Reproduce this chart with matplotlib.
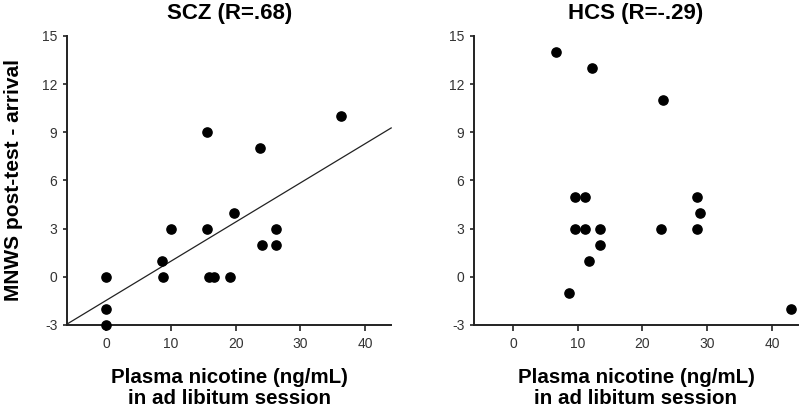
import numpy as np
import matplotlib
matplotlib.use('Agg')
import matplotlib.pyplot as plt

plt.rcParams['font.family'] = ['Liberation Sans', 'DejaVu Sans']
plt.rcParams['axes.unicode_minus'] = False

# SCZ group
scz_x = [0, 0, 0, 8.7, 8.8, 10.0, 15.5, 15.5, 15.9, 16.6, 19.1, 19.8, 23.7, 24.0, 26.2, 26.2, 36.2]
scz_y = [0, -2, -3, 1, 0, 3, 9, 3, 0, 0, 0, 4, 8, 2, 3, 2, 10]

# HCS group
hcs_x = [6.7, 12.2, 23.2, 9.6, 11.2, 9.6, 11.1, 13.4, 13.4, 11.8, 8.6, 22.9, 28.4, 28.8, 28.4, 42.9]
hcs_y = [14, 13, 11, 5, 5, 3, 3, 3, 2, 1, -1, 3, 5, 4, 3, -2]

titles = ['SCZ (R=.68)', 'HCS (R=-.29)']
xticks = [0, 10, 20, 30, 40]
yticks = [-3, 0, 3, 6, 9, 12, 15]

fig = plt.figure(figsize=(8, 4.09), dpi=100)
ax1 = fig.add_axes([0.084, 0.2054, 0.405, 0.7066])
ax2 = fig.add_axes([0.5925, 0.2054, 0.405, 0.7066])

for ax, xs, ys, title in [(ax1, scz_x, scz_y, titles[0]), (ax2, hcs_x, hcs_y, titles[1])]:
    ax.scatter(xs, ys, s=44, color='black', zorder=3, clip_on=False)
    ax.set_xlim(-6, 44)
    ax.set_ylim(-3, 15)
    ax.set_xticks(xticks)
    ax.set_yticks(yticks)
    ax.spines['top'].set_visible(False)
    ax.spines['right'].set_visible(False)
    for side in ['left', 'bottom']:
        ax.spines[side].set_linewidth(1.4)
        ax.spines[side].set_color('#222222')
    ax.tick_params(axis='x', direction='out', length=4, width=1.2, colors='#222222',
                   labelsize=10, labelcolor='#333333', pad=5)
    ax.tick_params(axis='y', direction='out', length=3, width=1.2, colors='#222222',
                   labelsize=10, labelcolor='#333333', pad=4)
    ax.set_title(title, fontsize=16, fontweight='bold', pad=12)
    ax.set_xlabel('Plasma nicotine (ng/mL)\nin ad libitum session',
                  fontsize=14.8, fontweight='bold', labelpad=12, linespacing=1.1)

ax1.set_ylabel('MNWS post-test - arrival', fontsize=15, fontweight='bold', labelpad=14)

# regression line for SCZ
slope, intercept = np.polyfit(scz_x, scz_y, 1)
lx = np.array([-6, 44])
ax1.plot(lx, slope * lx + intercept, color='#222222', linewidth=0.9, zorder=2, clip_on=False)

fig.savefig('out.png', dpi=100)
